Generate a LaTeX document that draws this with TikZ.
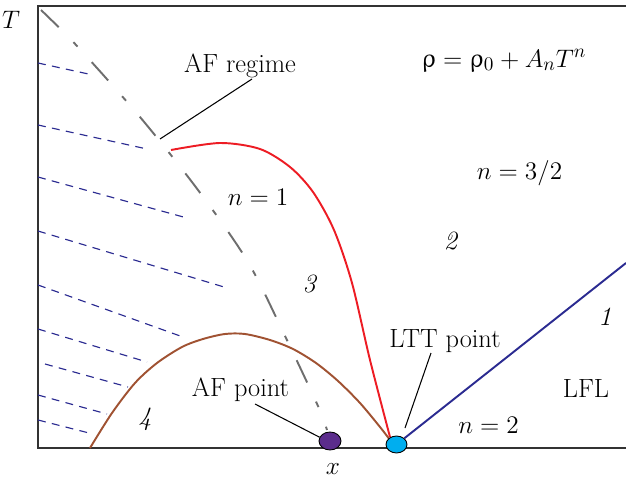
\documentclass[tikz,border=0pt]{standalone}
\usepackage{upgreek}
\usetikzlibrary{positioning,shapes.geometric}

\definecolor{afred}{RGB}{237,28,36}
\definecolor{afbrown}{RGB}{160,82,50}
\definecolor{afnavy}{RGB}{43,43,145}
\definecolor{afgray}{RGB}{110,110,110}
\definecolor{afpurple}{RGB}{91,44,140}
\definecolor{afcyan}{RGB}{0,174,239}

\begin{document}
\begin{tikzpicture}[
    x=0.02cm, y=0.02cm,
    lbl/.style={font=\fontsize{15}{18}\selectfont, anchor=base, inner sep=0pt},
    leader/.style={line width=0.6pt},
    hatch/.style={draw=afnavy, line width=0.65pt, dash pattern=on 4.5pt off 3.6pt},
    curve/.style={line width=1.1pt},
    dot/.style={ellipse, draw, line width=0.5pt, inner sep=0pt}
  ]
  \useasboundingbox (-38,-33) rectangle (588,448);
  % frame
  \draw[line width=0.9pt, black!80] (588,442) -- (0,442) -- (0,0) -- (588,0);
  % hatching
  \foreach \xa/\ya/\xb/\yb in {0/385/55/373, 0/323/109/299, 0/271/149/230,
      0/217/186/161, 0/163/145/111, 0/119/109/86, 7/84/90/61, 0/53/69/34, 0/28/55/14}
    \draw[hatch] (\xa,\ya) -- (\xb,\yb);
  % AF boundary
  \draw[afgray, curve, dash pattern=on 14pt off 12pt on 3.4pt off 12pt]
    plot[smooth] coordinates {(3,438) (39,402) (102,331) (160,258) (210,186) (247,112) (280,42) (289,18)};
  \coordinate (afregtip) at (122,309);
  % phase lines
  \draw[afbrown, curve] plot[smooth] coordinates {(52,0) (74,35) (97,65) (119,85) (144,101)
    (165,109) (187,114) (207,114) (232,108) (255,99) (278,85) (300,67) (322,45) (342,21) (352,8)};
  \draw[afred, curve] plot[smooth] coordinates {(133,298) (182,305) (222,299) (252,281)
    (275,256) (296,218) (314,165) (332,88) (352,11)};
  % points
  \node[dot, fill=afpurple, minimum width=0.44cm, minimum height=0.36cm] (afpt) at (292,7) {};
  \node[dot, fill=afcyan, minimum width=0.42cm, minimum height=0.34cm] (lttpt) at (358.5,3.5) {};
  \coordinate (lflend) at (588,185);
  \draw[afnavy, curve] (lttpt) -- (lflend);
  \coordinate (ltttip) at (367,20);
  % labels
  \node[lbl] (tlab) at (-27,419) {$T$};
  \node[lbl] (xlab) at (295,-26) {$x$};
  \node[lbl] (afreg) at (202,376) {AF regime};
  \node[lbl] (rho) at (466,381) {$\uprho = \uprho_0 + A_n T^n$};
  \node[lbl] (none) at (220,243) {$n = 1$};
  \node[lbl] (nthree) at (481.5,269) {$n = 3/2$};
  \node[lbl] (reg2) at (413,199) {\textit{2}};
  \node[lbl] (reg3) at (272,156) {\textit{3}};
  \node[lbl] (reg1) at (567,123) {\textit{1}};
  \node[lbl] (reg4) at (107,23) {\textit{4}};
  \node[lbl] (ltt) at (407,101) {LTT point};
  \node[lbl] (lfl) at (548,51) {LFL};
  \node[lbl] (ntwo) at (450.5,15) {$n = 2$};
  \node[lbl] (afpoint) at (202.5,52) {AF point};
  % leaders
  \draw[leader] ([shift={(12,-7)}]afreg.base) -- (afregtip);
  \draw[leader] ([shift={(-14,-6)}]ltt.base) -- (ltttip);
  \draw[leader] ([shift={(14.5,-8)}]afpoint.base) -- (afpt.160);
\end{tikzpicture}
\end{document}
